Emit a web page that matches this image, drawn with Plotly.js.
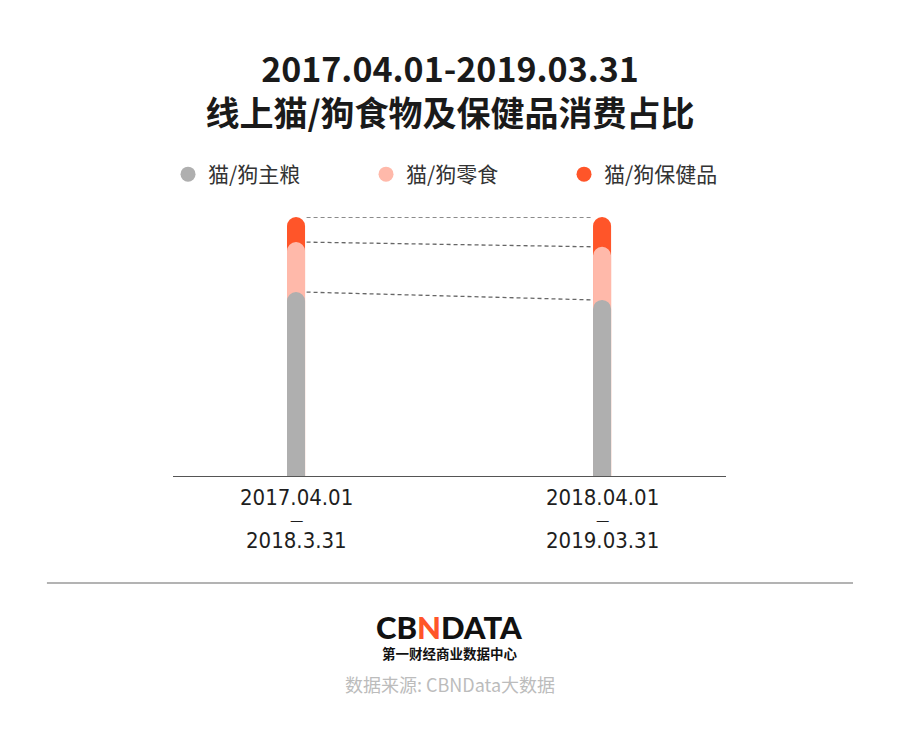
<!DOCTYPE html>
<html>
<head>
<meta charset="utf-8">
<script src="https://cdn.plot.ly/plotly-3.0.1.min.js"></script>
<style>
  html, body { margin: 0; padding: 0; background: #fff; }
  #chart { width: 900px; height: 743px; }
</style>
</head>
<body>
<div id="chart"></div>
<script>
// share of online spending, percent
const periods = [0, 1];
const periodStart = ["2017.04.01", "2018.04.01"];
const periodEnd = ["2018.3.31", "2019.03.31"];
const seriesNames = ["猫/狗主粮", "猫/狗零食", "猫/狗保健品"];
const staple = [71.0, 68.0];
const snacks = [19.3, 20.5];
const health = [9.7, 11.5];
const colors = ["#afafaf", "#ffb9aa", "#ff5529"];

const barWidth = 0.059;
const xRange = [-0.402, 1.405];
const cjk = "'Noto Sans CJK SC', sans-serif";
const numFont = "'DejaVu Sans Condensed', 'DejaVu Sans', sans-serif";

// cumulative tops; each segment sits on its own overlaid axis so that
// every one of them gets a rounded top (tallest drawn first)
const topStaple = staple.slice();
const topSnacks = staple.map((v, i) => v + snacks[i]);
const topHealth = topSnacks.map((v, i) => v + health[i]);
const tops = [topStaple, topSnacks, topHealth];
const barAxes = ["x3", "x2", "x"];

const data = [];
for (let s = 2; s >= 0; s--) {
  data.push({
    type: "bar",
    x: periods,
    y: tops[s],
    xaxis: barAxes[s],
    width: barWidth,
    marker: { color: colors[s], cornerradius: "50%" },
    showlegend: false,
    hoverinfo: "skip",
  });
}

// dashed guides between the two bars
tops.forEach((t) => {
  data.push({
    type: "scatter",
    mode: "lines",
    x: [periods[0] + barWidth / 2 + 0.005, periods[1] - barWidth / 2 - 0.005],
    y: t,
    line: { color: "#666", width: 1.3, dash: "4px,3px" },
    showlegend: false,
    hoverinfo: "skip",
  });
});

// legend-only entries with round markers
seriesNames.forEach((name, i) => {
  data.push({
    type: "scatter",
    mode: "markers",
    x: [null],
    y: [null],
    name: name,
    marker: { color: colors[i], size: 15, symbol: "circle" },
    hoverinfo: "skip",
  });
});

const annotations = [];
periods.forEach((p, i) => {
  annotations.push(
    { x: p, y: 0, xref: "x", yref: "paper", yanchor: "middle", yshift: -21,
      text: periodStart[i], showarrow: false, font: { family: numFont, size: 22, color: "#1e1e1e" } },
    { x: p, y: 0, xref: "x", yref: "paper", yanchor: "middle", yshift: -43,
      text: "—", showarrow: false, font: { family: cjk, size: 15, color: "#1e1e1e" } },
    { x: p, y: 0, xref: "x", yref: "paper", yanchor: "middle", yshift: -64,
      text: periodEnd[i], showarrow: false, font: { family: numFont, size: 22, color: "#1e1e1e" } }
  );
});

annotations.push(
  { x: 0.5, y: 0, xref: "paper", yref: "paper", yanchor: "middle", yshift: -151,
    text: "CB<span style='color:#ff5529'>N</span>DATA", showarrow: false,
    font: { family: "Lato, 'Open Sans', sans-serif", size: 31, color: "#111", weight: 900 } },
  { x: 0.5, y: 0, xref: "paper", yref: "paper", yanchor: "middle", yshift: -177,
    text: "第一财经商业数据中心", showarrow: false,
    font: { family: cjk, size: 13.5, color: "#111", weight: 700 } },
  { x: 0.5, y: 0, xref: "paper", yref: "paper", yanchor: "middle", yshift: -208,
    text: "数据来源: CBNData大数据", showarrow: false,
    font: { family: cjk, size: 18, color: "#bcbcbc" } }
);

const hiddenX = {
  range: xRange,
  overlaying: "x",
  visible: false,
  fixedrange: true,
};

const layout = {
  width: 900,
  height: 743,
  margin: { l: 173, r: 174, t: 217, b: 267, autoexpand: false },
  paper_bgcolor: "#fff",
  plot_bgcolor: "#fff",
  barmode: "overlay",
  title: {
    text: "<b>2017.04.01-2019.03.31</b><br><b>线上猫/狗食物及保健品消费占比</b>",
    x: 0.5,
    xanchor: "center",
    yref: "container",
    y: 1 - 82 / 743,
    yanchor: "middle",
    font: { family: cjk, size: 34, color: "#1a1a1a" },
  },
  xaxis: {
    range: xRange,
    showticklabels: false,
    showgrid: false,
    zeroline: false,
    showline: true,
    linecolor: "#555",
    linewidth: 1,
    ticks: "",
    fixedrange: true,
  },
  xaxis2: hiddenX,
  xaxis3: hiddenX,
  yaxis: {
    range: [0, 100],
    visible: false,
    fixedrange: true,
  },
  legend: {
    orientation: "h",
    x: -0.009,
    xanchor: "left",
    y: 1.164,
    yanchor: "middle",
    entrywidth: 153,
    entrywidthmode: "pixels",
    font: { family: cjk, size: 21, color: "#333" },
    bgcolor: "rgba(0,0,0,0)",
  },
  shapes: [
    { type: "line", xref: "paper", yref: "paper",
      x0: -0.228, x1: 1.2297, y0: -0.413, y1: -0.413,
      line: { color: "#9a9a9a", width: 1.5 } },
  ],
  annotations: annotations,
  hovermode: false,
};

Plotly.newPlot("chart", data, layout, { displayModeBar: false, staticPlot: true });
</script>
</body>
</html>
